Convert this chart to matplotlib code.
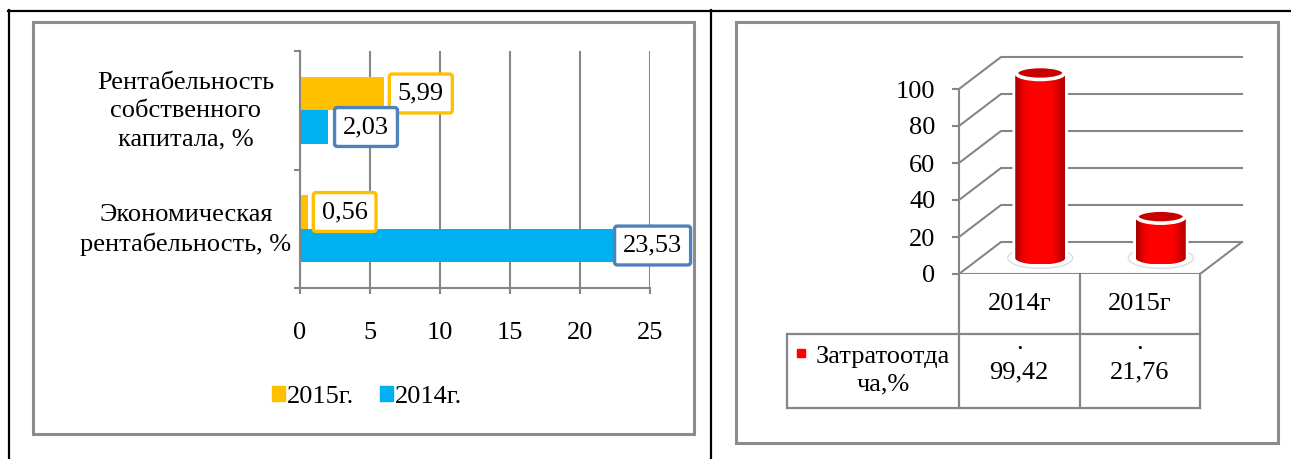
import numpy as np
import matplotlib.pyplot as plt
from matplotlib.patches import Rectangle, Ellipse, PathPatch
from matplotlib.path import Path
from matplotlib.colors import LinearSegmentedColormap
from matplotlib.transforms import blended_transform_factory

plt.rcParams['font.family'] = ['Liberation Serif', 'DejaVu Serif']
FS = 19

# Left chart: profitability indicators
indicators = ['Рентабельность\nсобственного\nкапитала, %',
              'Экономическая\nрентабельность, %']
years_left = ['2015г.', '2014г.']
r2015 = [5.99, 0.56]
r2014 = [2.03, 23.53]

# Right chart: cost return by year
years_right = ['2014г', '2015г']
cost_return = [99.42, 21.76]
series_name = 'Затратоотда\nча,%'

YELLOW, BLUE, GRID = '#FFC000', '#00B0F0', '#868686'

W, H = 1291, 459
fig = plt.figure(figsize=(W / 100, H / 100), dpi=100)

bg = fig.add_axes([0, 0, 1, 1], zorder=0)
bg.set_xlim(0, W)
bg.set_ylim(H, 0)
bg.axis('off')

# document table borders
bg.plot([8, W], [10.5, 10.5], color='black', lw=1.6)
bg.plot([9, 9], [10, H], color='black', lw=1.6)
bg.plot([711, 711], [10, H], color='black', lw=1.6)

# chart frames
bg.add_patch(Rectangle((33, 22), 661, 412, fill=False, ec='#8c8c8c', lw=2.2))
bg.add_patch(Rectangle((736, 22), 542, 421, fill=False, ec='#8c8c8c', lw=2.2))


def px_axes(x0, y0, x1, y1, **kw):
    return fig.add_axes([x0 / W, 1 - y1 / H, (x1 - x0) / W, (y1 - y0) / H], **kw)


def fmt(v):
    return f'{v:.2f}'.replace('.', ',')


# ---- horizontal bars ----
ax = px_axes(300, 51, 650, 288, zorder=2)
ax.set_facecolor('none')
pos = np.arange(len(indicators))
bh = 0.283
ax.barh(pos - bh / 2, r2015, height=bh, color=YELLOW, zorder=2)
ax.barh(pos + bh / 2, r2014, height=bh, color=BLUE, zorder=2)
ax.set_xlim(0, 25)
ax.set_ylim(len(indicators) - 0.5, -0.5)
ax.set_xticks(range(0, 26, 5))
ax.set_yticks(np.arange(len(indicators) + 1) - 0.5)
ax.set_yticklabels([])
ax.grid(axis='x', color=GRID, lw=1.5)
ax.set_axisbelow(True)
for s in ['top', 'right']:
    ax.spines[s].set_visible(False)
for s in ['left', 'bottom']:
    ax.spines[s].set_color(GRID)
    ax.spines[s].set_linewidth(1.5)
ax.tick_params(axis='both', color=GRID, width=1.5, length=4.5, labelsize=FS)
ax.tick_params(axis='x', pad=20)

tr = blended_transform_factory(ax.transAxes, ax.transData)
for i, name in enumerate(indicators):
    ax.text(-0.326, i + 0.01, name, transform=tr, ha='center', va='center',
            fontsize=FS, linespacing=1.35)

label_offsets = [[10, 10], [10.5, -4.6]]
for i in pos:
    for j, (vals, y, ec) in enumerate([(r2015, i - bh / 2, YELLOW),
                                       (r2014, i + bh / 2, '#4F81BD')]):
        off = label_offsets[j][i]
        ax.annotate(fmt(vals[i]), xy=(vals[i], y), xytext=(off, 0),
                    textcoords='offset points', ha='left', va='center',
                    fontsize=FS, annotation_clip=False, zorder=5,
                    bbox=dict(boxstyle='round,pad=0.32,rounding_size=0.1',
                              fc='white', ec=ec, lw=2.4))

handles = [Rectangle((0, 0), 1, 1, color=YELLOW), Rectangle((0, 0), 1, 1, color=BLUE)]
fig.legend(handles, years_left, loc='center', bbox_to_anchor=(367 / W, 1 - 397 / H),
           ncol=2, frameon=False, fontsize=FS, handlelength=0.5, handleheight=0.5,
           handletextpad=0.06, columnspacing=1.0)

# ---- 3D cylinders ----
PXX, PXY = 120.5, 1.85  # pixels per category / per value unit
axr = px_axes(959, 50, 1245, 274, zorder=2)
axr.set_facecolor('none')
DX, DY = 42 / PXX, 32 / PXY
n = len(years_right)
ticks = list(range(0, 101, 20))

for v in ticks:
    axr.plot([0, DX, n + DX], [v, v + DY, v + DY], color=GRID, lw=1.5, zorder=1)
axr.plot([0, n, n + DX], [0, 0, DY], color=GRID, lw=1.5, zorder=1)

cmap = LinearSegmentedColormap.from_list(
    'cyl', ['#a00000', '#e80000', '#ff0000', '#ff0000', '#ff0000', '#ff0000',
            '#e00000', '#a80000'])
grad = np.linspace(0, 1, 256)[None, :]
rx, ry = 25 / PXX, 6.5 / PXY
for i, v in enumerate(cost_return):
    xc = i + 0.5 + DX / 2
    yb, yt = DY / 2, v + DY / 2
    axr.add_patch(Ellipse((xc, yb), 2 * rx * 1.3, 2 * ry * 1.6, fc='white',
                          ec='#dddddd', lw=1, zorder=2))
    t_bot = np.linspace(0, -np.pi, 60)
    t_top = np.linspace(np.pi, 2 * np.pi, 60)
    verts = np.vstack([np.column_stack([xc + rx * np.cos(t_top), yt + ry * np.sin(t_top)]),
                       np.column_stack([xc + rx * np.cos(t_bot), yb + ry * np.sin(t_bot)]),
                       [[xc - rx, yt]]])
    codes = [Path.MOVETO] + [Path.LINETO] * (len(verts) - 2) + [Path.CLOSEPOLY]
    body = PathPatch(Path(verts, codes), fc='none', ec='white', lw=4, zorder=3)
    axr.add_patch(body)
    im = axr.imshow(grad, cmap=cmap, aspect='auto', zorder=4,
                    extent=(xc - rx, xc + rx, yb - ry, yt + ry))
    im.set_clip_path(body)
    axr.add_patch(Ellipse((xc, yt + 0.6), 2 * rx * 0.96, 2 * ry, fc='#c80000',
                          ec='white', lw=2.6, zorder=5))

axr.set_xlim(0, (1245 - 959) / PXX)
axr.set_ylim(0, 224 / PXY)
axr.set_yticks(ticks)
axr.set_xticks([])
for s in ['top', 'right', 'bottom']:
    axr.spines[s].set_visible(False)
axr.spines['left'].set_bounds(0, 100)
axr.spines['left'].set_color(GRID)
axr.spines['left'].set_linewidth(1.5)
axr.tick_params(axis='y', color=GRID, width=1.5, length=5, pad=12, labelsize=FS)

# data table under the cylinders
r1, r2 = -60 / PXY, -134 / PXY
xl = (787 - 959) / PXX
kw = dict(color=GRID, lw=1.6, clip_on=False, zorder=1)
for x in range(n + 1):
    axr.plot([x, x], [0, r2], **kw)
axr.plot([xl, n], [r1, r1], **kw)
axr.plot([xl, n], [r2, r2], **kw)
axr.plot([xl, xl], [r1, r2], **kw)
for i, (yr, v) in enumerate(zip(years_right, cost_return)):
    axr.text(i + 0.5, r1 / 2, yr, ha='center', va='center', fontsize=FS)
    axr.text(i + 0.5, -69 / PXY, '.', ha='center', va='center', fontsize=FS)
    axr.text(i + 0.5, -98 / PXY, fmt(v), ha='center', va='center', fontsize=FS)
axr.plot([(801 - 959) / PXX], [-79 / PXY], 's', color='red', ms=5.8, clip_on=False)
axr.text((883 - 959) / PXX, -97 / PXY, series_name, ha='center', va='center',
         fontsize=FS, linespacing=1.3)

fig.savefig('out.png', dpi=100)
